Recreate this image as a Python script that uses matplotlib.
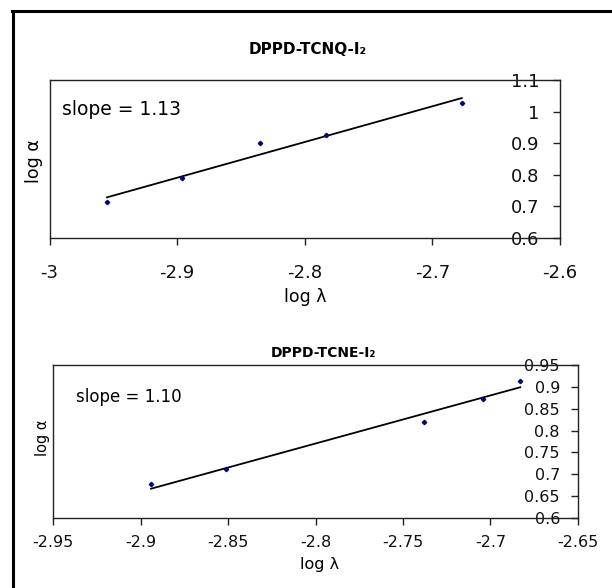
import numpy as np
import matplotlib
matplotlib.use('Agg')
import matplotlib.pyplot as plt
from matplotlib.lines import Line2D
from matplotlib.ticker import FormatStrFormatter, MultipleLocator

plt.rcParams['font.family'] = ['DejaVu Sans']
plt.rcParams['axes.unicode_minus'] = False

# DPPD-TCNQ-I2 data
log_lambda_q = [-2.955, -2.896, -2.835, -2.783, -2.677]
log_alpha_q = [0.713, 0.789, 0.900, 0.926, 1.026]
slope_q = 1.13

# DPPD-TCNE-I2 data
log_lambda_e = [-2.894, -2.851, -2.738, -2.704, -2.683]
log_alpha_e = [0.677, 0.711, 0.820, 0.873, 0.914]
slope_e = 1.10

W, H = 612, 588
fig = plt.figure(figsize=(W / 100, H / 100), dpi=100)


def box(l, t, r, b):
    # pixel box -> figure fraction
    return [l / W, 1 - b / H, (r - l) / W, (b - t) / H]


def panel(rect, x, y, slope, title, xlim, ylim, ystep, fs, tick_pad_x, tick_pad_y,
          title_xy, slope_xy, slope_fs, ylab_xy, ylab_fs, xlab_xy, xlab_fs, title_fs):
    ax = fig.add_axes(box(*rect))
    x = np.array(x)
    y = np.array(y)
    # fit line with the quoted slope through the centroid
    b = y.mean() - slope * x.mean()
    xs = np.array([x.min(), x.max()])
    ax.plot(xs, slope * xs + b, color='black', lw=1.3)
    ax.plot(x, y, 'D', color='#000080', ms=2.2, zorder=3)

    ax.set_xlim(*xlim)
    ax.set_ylim(*ylim)
    ax.xaxis.set_major_locator(MultipleLocator(0.05 if xlim[1] - xlim[0] < 0.35 else 0.1))
    ax.yaxis.set_major_locator(MultipleLocator(ystep))
    ax.xaxis.set_major_formatter(FormatStrFormatter('%g'))
    ax.yaxis.set_major_formatter(FormatStrFormatter('%g'))

    # value axis crosses at the right end
    ax.spines['left'].set_position(('axes', 1.0))
    ax.spines['right'].set_position(('axes', 0.0))
    for s in ax.spines.values():
        s.set_linewidth(1.0)
        s.set_color('#222222')
    ax.tick_params(axis='x', direction='out', length=5, width=1, pad=tick_pad_x,
                   labelsize=fs, colors='#222222', labelcolor='#111111')
    ax.tick_params(axis='y', direction='out', length=5, width=1, pad=tick_pad_y,
                   labelsize=fs, colors='#222222', labelcolor='#111111')

    l, t, r, bt = rect

    def ax_xy(px, py):
        return ((px - l) / (r - l), (bt - py) / (bt - t))

    ax.set_xlabel('log λ', fontsize=xlab_fs)
    ax.xaxis.set_label_coords(*ax_xy(*xlab_xy))
    ax.xaxis.label.set_va('center')
    ax.set_ylabel('log α', fontsize=ylab_fs)
    ax.yaxis.set_label_coords(*ax_xy(*ylab_xy))
    ax.yaxis.label.set_va('center')
    ax.yaxis.label.set_ha('center')

    tx, ty = ax_xy(*title_xy)
    ax.text(tx, ty, title, transform=ax.transAxes, ha='center', va='center',
            fontsize=title_fs, fontweight='bold')
    sx, sy = ax_xy(*slope_xy)
    ax.text(sx, sy, 'slope = %.2f' % slope, transform=ax.transAxes, ha='left',
            va='center', fontsize=slope_fs)
    return ax


panel((49.6, 80, 560, 238), log_lambda_q, log_alpha_q, slope_q, 'DPPD-TCNQ-I₂',
      (-3.0, -2.6), (0.6, 1.1), 0.1, 13, 14, 10,
      (308, 49), (62, 110), 13.5, (34, 161), 12.5, (305, 297), 12.5, 11)

panel((53, 365, 578, 518), log_lambda_e, log_alpha_e, slope_e, 'DPPD-TCNE-I₂',
      (-2.95, -2.65), (0.6, 0.95), 0.05, 11.5, 7.5, 8,
      (323, 353), (76, 397), 12, (42, 438), 10.5, (320, 565), 11.5, 10)

# outer frame (left and top edges)
fig.add_artist(Line2D([12.5 / W, 12.5 / W], [0, 1 - 10.7 / H], transform=fig.transFigure,
                      color='black', lw=2.2))
fig.add_artist(Line2D([11.5 / W, 1], [1 - 10.7 / H, 1 - 10.7 / H], transform=fig.transFigure,
                      color='black', lw=2.2))

fig.savefig('out.png', dpi=100)
